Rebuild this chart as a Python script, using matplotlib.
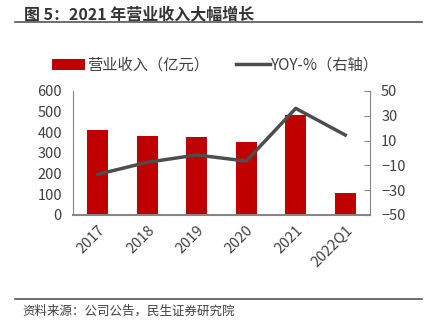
import numpy as np
import matplotlib
matplotlib.use('Agg')
import matplotlib.pyplot as plt
from matplotlib.lines import Line2D
from matplotlib.patches import Patch

plt.rcParams['font.family'] = ['Noto Sans CJK SC', 'DejaVu Sans']

categories = ['2017', '2018', '2019', '2020', '2021', '2022Q1']
revenue = [410, 382, 377, 355, 484, 106]
yoy = [-17.2, -7.5, -1.6, -6.5, 36.0, 14.5]

bar_color = '#C00000'
line_color = '#4D4D4D'
axis_color = '#868686'
text_color = '#404040'

fig = plt.figure(figsize=(4.31, 3.29), dpi=100)
ax = fig.add_axes([73 / 431, 1 - 215 / 329, 297 / 431, 124 / 329])

x = np.arange(len(categories))
ax.bar(x, revenue, width=0.42, color=bar_color, zorder=2)
ax.set_xlim(-0.5, len(categories) - 0.5)
ax.set_ylim(0, 600)
ax.set_yticks(range(0, 601, 100))
ax.set_xticks(x)
ax.set_xticklabels(categories, rotation=45, ha='right', rotation_mode='anchor')

ax2 = ax.twinx()
ax2.plot(x, yoy, color=line_color, linewidth=2.5, zorder=3)
ax2.set_ylim(-50, 50)
ax2.set_yticks(range(-50, 51, 20))

for a in (ax, ax2):
    for s in a.spines.values():
        s.set_visible(False)
    a.tick_params(colors=text_color, labelsize=10.5)
ax.spines['left'].set_visible(True)
ax.spines['bottom'].set_visible(True)
ax.spines['left'].set_color(axis_color)
ax.spines['bottom'].set_color(axis_color)
ax.spines['bottom'].set_linewidth(1.5)
ax2.spines['right'].set_visible(True)
ax2.spines['right'].set_color(axis_color)
ax.tick_params(axis='y', length=0, pad=8)
ax.tick_params(axis='x', length=0, pad=6)
ax2.tick_params(axis='y', direction='in', length=4, color=axis_color, pad=8)

handles = [Patch(facecolor=bar_color, label='营业收入（亿元）'),
           Line2D([0], [0], color=line_color, linewidth=2.5, label='YOY-%（右轴）')]
fig.legend(handles=handles, loc='center', bbox_to_anchor=(0.5, 1 - 65 / 329),
           ncol=2, frameon=False, fontsize=11, handlelength=2.2,
           handletextpad=0.1, columnspacing=1.8, labelcolor=text_color)

fig.text(24 / 431, 1 - 14 / 329, '图 5：2021 年营业收入大幅增长', fontsize=11.5,
         fontweight='bold', color='#333333', va='center', ha='left')
fig.add_artist(Line2D([15 / 431, 422 / 431], [1 - 22 / 329, 1 - 22 / 329],
                      color='#555555', linewidth=1.2))
fig.add_artist(Line2D([15 / 431, 422 / 431], [1 - 299 / 329, 1 - 299 / 329],
                      color='#555555', linewidth=1.2))
fig.text(22 / 431, 1 - 311 / 329, '资料来源：公司公告，民生证券研究院', fontsize=9,
         color=text_color, va='center', ha='left')

fig.savefig('out.png', dpi=100)
